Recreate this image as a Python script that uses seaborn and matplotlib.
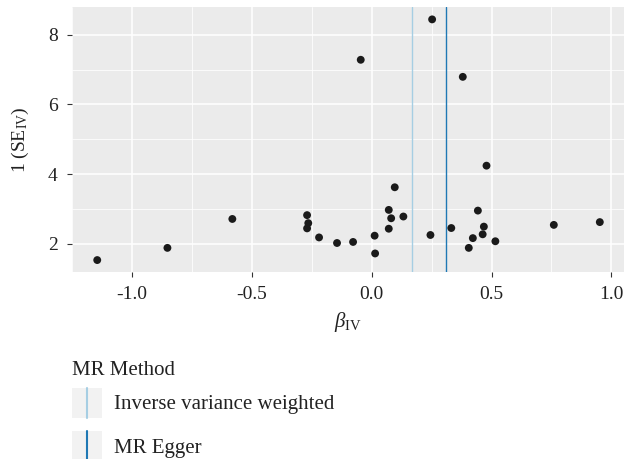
import matplotlib
matplotlib.use("Agg")
import matplotlib.pyplot as plt
import seaborn as sns
import pandas as pd
from matplotlib.legend_handler import HandlerBase
from matplotlib.patches import Rectangle
from matplotlib.lines import Line2D
from matplotlib.ticker import MultipleLocator

# ---- data ----
beta_iv = [-1.146, -0.853, -0.582, -0.270, -0.265, -0.270, -0.220, -0.145, -0.078,
           -0.046, 0.012, 0.014, 0.071, 0.081, 0.071, 0.096, 0.132, 0.245, 0.252,
           0.332, 0.380, 0.405, 0.422, 0.443, 0.463, 0.468, 0.479, 0.516, 0.760, 0.952]
inv_se = [1.53, 1.88, 2.71, 2.82, 2.59, 2.44, 2.18, 2.02, 2.05,
          7.28, 2.23, 1.72, 2.97, 2.73, 2.43, 3.62, 2.78, 2.25, 8.44,
          2.45, 6.79, 1.88, 2.16, 2.95, 2.27, 2.49, 4.24, 2.07, 2.54, 2.62]
methods = ["Inverse variance weighted", "MR Egger"]
method_estimates = [0.168, 0.309]
method_colors = ["#a6cee3", "#1f78b4"]
x_ticks = [-1.0, -0.5, 0.0, 0.5, 1.0]
y_ticks = [2, 4, 6, 8]

df = pd.DataFrame({"beta": beta_iv, "inv_se": inv_se})

sns.set_theme(style="darkgrid")
SERIF = ["Liberation Serif", "DejaVu Serif"]
plt.rcParams["font.family"] = SERIF
plt.rcParams["mathtext.fontset"] = "custom"
plt.rcParams["mathtext.rm"] = "Liberation Serif"
plt.rcParams["mathtext.it"] = "Liberation Serif:italic"

fig = plt.figure(figsize=(6.24, 4.59), dpi=100)
ax = fig.add_axes([71.7 / 624, (459 - 271.7) / 459, (624 - 71.7) / 624, (271.7 - 6.7) / 459])
ax.set_facecolor("#EBEBEB")

sns.scatterplot(data=df, x="beta", y="inv_se", ax=ax, color="#1a1a1a",
                s=32, edgecolor="none", zorder=3)

for m, est, col in zip(methods, method_estimates, method_colors):
    ax.axvline(est, color=col, lw=1.0, zorder=2, label=m)

ax.set_xlim(-1.2526, 1.053)
ax.set_ylim(1.196, 8.804)
ax.set_xticks(x_ticks)
ax.set_xticklabels([f"{t:.1f}" for t in x_ticks], family=SERIF)
ax.set_yticks(y_ticks)
ax.set_yticklabels([str(t) for t in y_ticks], family=SERIF)
ax.xaxis.set_minor_locator(MultipleLocator(0.25))
ax.yaxis.set_minor_locator(MultipleLocator(1))
ax.grid(which="major", color="white", lw=1.1)
ax.grid(which="minor", color="white", lw=0.55)
ax.set_axisbelow(True)
for sp in ax.spines.values():
    sp.set_visible(False)
ax.tick_params(axis="both", which="major", length=3.6, width=0.8, color="#333333",
               labelsize=14, labelcolor="#222222", pad=6.5, bottom=True, left=True)
ax.tick_params(axis="both", which="minor", length=0)

ax.set_xlabel(r"$\beta_{\mathrm{IV}}$", fontsize=15, color="#222222", labelpad=5.5)
ax.set_ylabel(r"1 (SE$_{\mathrm{IV}}$)", fontsize=14, color="#222222", labelpad=12)


class KeyHandler(HandlerBase):
    def create_artists(self, legend, orig_handle, xdescent, ydescent, width, height,
                       fontsize, trans):
        bg = Rectangle((-xdescent, -ydescent), width, height, facecolor="#F2F2F2",
                       edgecolor="none", transform=trans)
        cx = -xdescent + width / 2
        ln = Line2D([cx, cx], [-ydescent, -ydescent + height],
                    color=orig_handle.get_color(), lw=1.5, transform=trans)
        return [bg, ln]


handles = [Line2D([], [], color=c) for c in method_colors]
leg = fig.legend(handles, methods, title="MR Method", loc="upper left",
                 bbox_to_anchor=(72 / 624, 1 - 361 / 459), frameon=False,
                 handler_map={Line2D: KeyHandler()}, fontsize=15, title_fontsize=15,
                 handlelength=1.44, handleheight=1.84, handletextpad=0.6,
                 labelspacing=0.67, borderaxespad=0, borderpad=0, alignment="left")
leg._legend_box.sep = 5.4
for t in leg.get_texts():
    t.set_color("#222222")
leg.get_title().set_color("#222222")

fig.savefig("out.png", dpi=100)
